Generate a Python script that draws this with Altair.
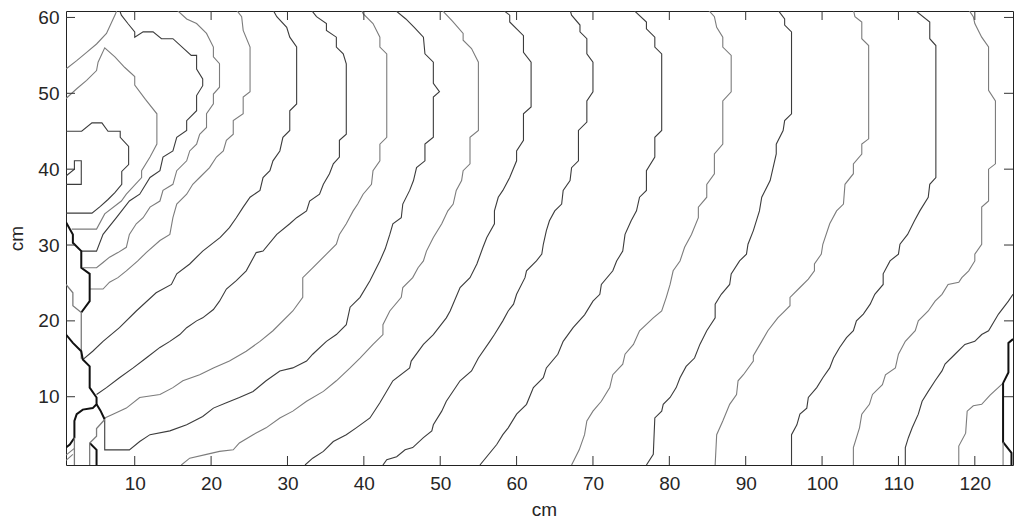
import altair as alt
import pandas as pd

# ---------------- data ----------------
x_ticks = [10, 20, 30, 40, 50, 60, 70, 80, 90, 100, 110, 120]
y_ticks = [10, 20, 30, 40, 50, 60]

# contour polylines, [x, y] in cm
c01 = [[1.0, 38.0], [3.0, 38.0], [3.0, 41.1], [2.1, 41.1], [2.1, 40.0], [1.0, 39.1]]
c02 = [[1.0, 45.0], [3.05, 45.0], [4.4, 46.1], [5.7, 46.1], [6.5, 45.0], [8.1, 45.0], [8.1, 44.2],
       [9.2, 43.0], [9.2, 40.6], [8.3, 39.7], [8.3, 38.0], [7.4, 36.9], [6.5, 36.0], [5.5, 35.1],
       [4.4, 34.2], [1.0, 34.2]]
c03a = [[1.0, 53.2], [2.4, 54.3], [3.7, 55.4], [5.0, 56.5], [6.3, 57.9], [6.9, 59.2], [7.4, 60.3], [7.7, 61.0]]
c03 = [[1.0, 49.3], [2.4, 50.6], [3.7, 51.7], [5.0, 53.0], [5.2, 54.1], [6.07, 56.0], [7.4, 54.8],
       [8.7, 53.4], [10.0, 52.2], [10.0, 51.1], [11.4, 49.2], [12.9, 47.3], [12.9, 43.3], [12.0, 41.6],
       [10.9, 39.8], [10.9, 38.9], [8.9, 36.7], [8.25, 35.8], [6.07, 34.1], [5.0, 32.1], [1.75, 32.1]]
c04 = [[8.0, 61.0], [8.25, 60.3], [9.1, 59.2], [10.0, 58.1], [10.0, 57.4], [11.1, 58.1], [12.4, 58.1],
       [13.5, 57.2], [15.0, 57.2], [17.4, 55.0], [18.1, 55.0], [18.1, 53.2], [18.9, 51.9], [18.9, 51.0],
       [18.1, 49.7], [18.1, 47.7], [16.8, 46.4], [16.8, 45.1], [15.5, 44.2], [15.0, 42.4], [13.7, 41.6],
       [13.3, 39.8], [12.0, 38.9], [10.65, 36.7], [9.3, 35.8], [7.6, 33.6], [5.85, 31.4], [5.0, 29.2],
       [3.0, 29.2]]
c05 = [[15.5, 61.0], [16.8, 59.8], [18.1, 59.2], [19.4, 57.9], [20.3, 56.1], [20.3, 54.8], [21.1, 53.9],
       [21.1, 50.8], [20.3, 49.9], [20.3, 48.6], [19.4, 47.3], [19.4, 45.5], [18.5, 44.6], [18.1, 43.3],
       [17.2, 42.4], [16.8, 41.1], [15.5, 39.8], [15.0, 38.0], [13.7, 37.2], [13.3, 35.8], [12.0, 35.0],
       [11.1, 33.6], [10.2, 32.8], [9.3, 31.4], [8.9, 29.7], [7.8, 29.0], [6.7, 28.4], [5.85, 27.7],
       [5.0, 27.0], [3.2, 27.0]]
c06 = [[23.3, 61.0], [24.0, 60.1], [24.2, 58.3], [25.1, 56.1], [25.1, 50.2], [24.2, 49.5], [24.2, 47.3],
       [22.9, 46.4], [22.9, 44.6], [22.0, 43.8], [21.6, 42.4], [20.7, 41.6], [19.8, 40.2], [18.5, 38.9],
       [17.6, 38.0], [16.8, 36.7], [15.5, 35.4], [15.0, 33.6], [14.6, 31.4], [13.3, 30.6], [11.5, 29.0],
       [10.4, 27.9], [8.9, 26.6], [7.8, 25.7], [6.7, 25.1], [5.85, 24.2], [4.1, 24.2]]
c07 = [[28.1, 61.0], [28.6, 60.1], [29.9, 58.7], [30.3, 57.4], [31.2, 56.1], [31.2, 48.6], [30.3, 47.7],
       [30.3, 45.1], [29.4, 44.2], [29.0, 42.4], [28.1, 41.1], [27.7, 39.8], [26.8, 38.9], [26.4, 37.2],
       [25.1, 36.3], [24.2, 35.0], [23.3, 33.6], [22.4, 32.3], [21.2, 31.0], [18.9, 29.2], [17.2, 27.5],
       [15.5, 26.2], [14.8, 24.8], [12.8, 23.7], [10.2, 21.3], [8.0, 19.1], [5.85, 17.3], [4.5, 16.0],
       [3.2, 14.9]]
c08 = [[33.1, 61.0], [33.8, 60.1], [35.1, 59.2], [35.1, 58.3], [36.4, 57.4], [36.4, 56.1], [37.3, 55.2],
       [37.7, 53.9], [37.7, 44.6], [36.8, 43.8], [36.8, 41.6], [36.0, 40.7], [35.5, 39.4], [34.7, 38.0],
       [34.2, 36.7], [32.9, 35.8], [32.5, 34.5], [31.2, 33.6], [30.3, 32.8], [28.6, 31.4], [26.8, 29.2],
       [25.9, 29.0], [24.6, 26.6], [23.3, 25.3], [22.0, 24.2], [21.1, 22.6], [20.3, 21.5], [18.9, 20.4],
       [18.1, 20.0], [16.8, 19.1], [15.9, 18.2], [14.6, 17.3], [13.3, 16.5], [11.5, 15.1], [9.8, 13.8],
       [8.0, 12.5], [6.3, 11.2], [5.0, 10.3]]
c09 = [[39.7, 61.0], [39.9, 60.5], [41.2, 59.2], [42.1, 57.4], [42.1, 56.1], [43.0, 55.2], [43.0, 44.2],
       [42.1, 43.3], [42.1, 41.1], [41.2, 39.8], [41.0, 38.0], [39.9, 36.7], [39.2, 35.4], [38.6, 34.5],
       [37.7, 32.8], [36.8, 31.4], [36.4, 30.1], [35.1, 28.8], [33.3, 27.0], [32.0, 25.7], [32.0, 23.1],
       [30.7, 21.3], [28.1, 18.7], [26.4, 17.3], [24.6, 16.0], [22.4, 14.7], [20.3, 13.8], [18.5, 12.9],
       [16.3, 12.1], [15.0, 11.2], [13.3, 10.3], [10.65, 9.9], [8.9, 8.5], [7.15, 7.7], [6.07, 7.2]]
c10 = [[44.05, 61.0], [45.5, 59.8], [46.6, 58.7], [47.8, 57.4], [48.0, 55.2], [49.1, 54.1], [49.1, 51.3],
       [49.9, 50.2], [49.1, 49.5], [49.1, 44.2], [48.0, 43.3], [48.0, 41.1], [46.9, 40.2], [46.5, 38.5],
       [46.0, 37.2], [45.1, 35.4], [44.9, 33.6], [43.8, 32.8], [43.4, 31.4], [42.8, 29.5], [42.1, 27.9],
       [40.8, 25.3], [39.5, 23.1], [38.2, 21.8], [37.7, 19.5], [36.4, 18.2], [35.1, 17.3], [33.3, 15.6],
       [32.5, 14.7], [30.7, 13.8], [29.0, 13.4], [27.2, 12.1], [25.5, 10.7], [23.7, 9.9], [22.0, 9.2],
       [20.3, 8.5], [18.9, 7.4], [16.8, 6.3], [14.6, 5.5], [12.0, 5.0], [10.65, 4.1], [9.3, 3.0],
       [6.07, 3.0], [6.07, 7.0]]
c11 = [[50.2, 61.0], [51.6, 59.5], [53.0, 57.9], [53.0, 57.0], [54.1, 55.9], [55.0, 54.1], [55.0, 45.1],
       [53.9, 44.2], [53.9, 40.7], [53.0, 39.8], [52.8, 38.5], [52.1, 37.2], [51.7, 35.4], [51.0, 34.5],
       [50.2, 32.8], [49.1, 31.0], [48.2, 29.2], [47.8, 27.9], [47.1, 27.0], [46.4, 25.7], [45.1, 24.4],
       [44.9, 23.1], [43.4, 21.3], [42.5, 19.5], [42.5, 18.2], [41.2, 16.9], [39.5, 15.1], [38.2, 13.8],
       [36.4, 12.1], [34.7, 10.7], [32.5, 9.4], [30.7, 8.1], [29.0, 7.2], [27.2, 5.9], [25.5, 5.0],
       [23.7, 3.9], [22.9, 3.0], [21.1, 2.8], [19.4, 2.4], [17.2, 1.9], [16.1, 1.0]]
c12 = [[58.2, 61.0], [59.1, 60.3], [59.1, 59.4], [60.9, 57.6], [60.9, 55.4], [61.9, 54.1], [61.9, 48.2],
       [60.9, 47.3], [60.9, 43.8], [60.0, 42.4], [60.0, 41.1], [59.1, 38.9], [58.2, 37.2], [57.6, 36.3],
       [57.1, 34.5], [57.1, 32.8], [56.1, 31.0], [55.6, 29.7], [54.8, 27.5], [53.9, 25.7], [52.6, 24.4],
       [51.3, 21.3], [50.8, 20.4], [49.1, 18.2], [47.8, 16.9], [46.2, 14.7], [46.0, 13.8], [43.8, 12.1],
       [42.1, 9.2], [40.8, 7.2], [39.0, 5.9], [37.7, 5.0], [36.0, 4.1], [34.7, 2.8], [33.3, 1.9], [32.3, 1.0]]
c13 = [[67.0, 61.0], [67.2, 60.3], [68.3, 59.0], [68.3, 58.1], [69.2, 57.2], [69.2, 55.2], [70.0, 54.1],
       [70.0, 50.2], [69.2, 49.0], [69.2, 46.2], [68.1, 45.1], [68.1, 41.1], [67.2, 40.2], [67.0, 38.5],
       [66.1, 37.2], [65.9, 35.4], [65.0, 34.5], [64.3, 33.2], [63.9, 31.9], [63.5, 30.1], [63.3, 28.8],
       [62.6, 27.9], [61.3, 26.6], [61.1, 25.7], [60.0, 23.5], [59.6, 22.2], [58.9, 21.3], [58.2, 20.0],
       [57.1, 18.2], [56.5, 17.3], [55.0, 15.1], [54.1, 13.4], [52.6, 12.1], [50.8, 9.4], [50.2, 8.1],
       [49.1, 6.3], [48.9, 5.5], [47.8, 4.6], [46.4, 3.3], [45.4, 3.0], [44.3, 2.1], [43.0, 1.7], [42.5, 1.0]]
c14 = [[75.3, 61.0], [77.0, 59.4], [77.0, 58.5], [78.1, 57.4], [78.1, 56.1], [79.0, 55.2], [79.0, 45.1],
       [78.1, 44.2], [78.1, 41.6], [77.0, 39.8], [77.0, 37.2], [76.1, 36.3], [75.7, 34.5], [75.0, 33.2],
       [74.2, 31.4], [73.9, 29.2], [73.1, 27.9], [72.6, 26.6], [71.1, 24.8], [70.9, 23.5], [70.0, 22.6],
       [68.9, 20.8], [67.4, 19.1], [66.1, 17.3], [65.4, 15.6], [63.9, 13.8], [63.5, 12.5], [62.2, 11.2],
       [61.3, 9.0], [60.0, 7.7], [58.9, 5.9], [58.2, 5.0], [57.4, 3.7], [55.2, 1.0]]
c15 = [[85.1, 61.0], [85.9, 60.1], [86.2, 58.7], [87.0, 57.4], [87.0, 56.1], [88.1, 55.0], [88.1, 50.2],
       [87.0, 49.0], [87.0, 43.3], [85.9, 42.0], [85.9, 39.4], [84.9, 38.0], [84.9, 36.3], [83.8, 35.0],
       [83.8, 33.6], [82.9, 31.4], [82.0, 29.7], [81.4, 27.9], [80.5, 26.6], [80.1, 24.8], [79.6, 23.1],
       [79.0, 21.3], [77.9, 20.4], [76.1, 18.7], [75.3, 16.9], [74.2, 15.6], [73.9, 14.3], [72.6, 12.9],
       [72.2, 11.2], [71.1, 9.4], [70.0, 8.1], [69.2, 6.8], [68.9, 5.0], [68.2, 3.0], [67.2, 1.0]]
c16 = [[94.2, 61.0], [95.1, 59.8], [95.1, 59.0], [96.0, 58.1], [96.0, 47.3], [95.1, 46.4], [94.9, 45.1],
       [94.0, 43.3], [94.0, 42.0], [93.2, 38.5], [92.1, 36.3], [91.8, 34.5], [91.0, 31.9], [90.3, 30.1],
       [90.1, 28.8], [89.2, 27.9], [88.1, 26.2], [87.9, 24.8], [86.8, 23.5], [86.0, 22.2], [86.0, 20.4],
       [84.9, 18.7], [84.0, 16.9], [83.3, 15.1], [82.2, 14.0], [81.4, 12.5], [80.9, 11.2], [80.1, 9.9],
       [79.2, 9.0], [79.0, 8.1], [78.1, 7.2], [77.9, 2.4], [77.0, 1.0]]
c17 = [[104.1, 61.0], [104.3, 60.1], [105.2, 59.4], [105.2, 57.2], [106.1, 56.3], [106.1, 44.0],
       [105.2, 43.3], [105.2, 42.0], [104.1, 40.7], [104.1, 39.4], [103.0, 38.0], [102.8, 35.4],
       [101.9, 34.5], [101.0, 32.8], [100.1, 30.1], [99.9, 28.8], [99.0, 27.5], [99.0, 26.6], [98.2, 25.5],
       [97.1, 24.4], [95.8, 23.1], [95.8, 22.0], [94.9, 21.1], [94.2, 20.4], [92.9, 18.7], [92.1, 17.3],
       [91.0, 15.4], [91.0, 14.7], [89.7, 12.9], [89.0, 12.1], [88.8, 10.3], [87.9, 9.0], [87.0, 6.8],
       [86.2, 5.0], [86.0, 1.0]]
c18 = [[112.1, 61.0], [114.1, 59.4], [114.1, 57.2], [114.9, 56.3], [114.9, 38.9], [114.1, 38.0],
       [113.9, 36.3], [112.8, 34.5], [112.1, 33.2], [111.2, 31.4], [110.2, 30.1], [110.0, 28.8],
       [108.9, 27.9], [108.0, 26.2], [108.0, 24.8], [106.9, 23.5], [106.3, 22.2], [105.4, 20.9],
       [104.5, 20.0], [104.1, 18.7], [103.2, 17.8], [102.3, 16.5], [101.5, 15.1], [101.0, 13.8],
       [100.1, 12.5], [99.3, 11.2], [98.2, 9.9], [98.0, 8.5], [97.1, 7.7], [96.7, 6.3], [96.0, 5.0], [96.0, 1.0]]
c19 = [[119.2, 61.0], [119.8, 60.1], [120.0, 59.2], [120.9, 57.4], [121.8, 56.1], [121.8, 50.4],
       [122.7, 49.0], [122.7, 40.7], [121.8, 40.0], [121.8, 35.8], [120.9, 35.0], [120.9, 30.1],
       [120.0, 28.8], [120.0, 27.9], [119.2, 26.6], [118.3, 25.7], [117.9, 25.1], [116.5, 24.8],
       [115.7, 23.5], [114.8, 22.6], [113.9, 21.3], [112.6, 20.0], [112.2, 18.7], [110.9, 17.3],
       [110.0, 15.6], [109.6, 13.8], [108.3, 12.9], [107.9, 11.6], [106.6, 10.3], [106.2, 9.0],
       [105.2, 7.7], [104.9, 5.9], [104.1, 3.3], [104.1, 1.0]]
c20 = [[125.0, 23.5], [124.4, 22.6], [123.1, 20.9], [121.8, 18.7], [120.9, 18.2], [120.0, 17.3],
       [118.7, 16.9], [117.4, 15.6], [116.1, 14.3], [115.7, 13.4], [114.8, 12.1], [113.9, 10.7],
       [113.1, 9.4], [112.6, 7.7], [111.8, 5.9], [111.3, 4.6], [110.9, 3.3], [110.9, 1.0]]
c21 = [[117.9, 1.0], [117.9, 3.5], [118.8, 5.2], [119.0, 8.1], [119.8, 8.8], [120.9, 9.0], [122.0, 10.2],
       [123.7, 11.8]]
c21b = [[123.7, 11.8], [124.4, 13.2], [124.4, 17.1], [125.0, 17.6]]
c22 = [[123.7, 11.8], [123.7, 4.0], [124.8, 2.6], [124.8, 1.0]]
c22g = [[123.7, 4.0], [123.7, 1.0]]

# tangle of low-level contours along the left edge
t1 = [[1.0, 33.0], [1.9, 31.4], [1.9, 30.3], [3.0, 29.2], [3.0, 27.0], [4.1, 26.2], [4.1, 22.6], [3.0, 21.1]]
t2 = [[1.0, 24.8], [1.9, 23.7], [1.9, 22.0], [3.0, 21.1], [3.0, 15.0]]
t3 = [[1.0, 18.2], [1.9, 17.1], [3.0, 16.0], [3.2, 14.9], [4.1, 14.0], [4.1, 11.2], [5.0, 9.9], [5.0, 9.0],
      [4.5, 8.5], [3.2, 8.3], [2.4, 7.7], [2.1, 6.8], [2.1, 4.6], [1.5, 3.7], [1.0, 3.3]]
t4 = [[5.0, 9.0], [5.5, 8.2], [6.07, 7.0]]
t5 = [[4.1, 3.9], [5.0, 3.0], [5.0, 1.0]]
t6 = [[4.1, 1.0], [4.1, 3.9], [5.0, 4.8], [5.0, 5.8], [6.07, 7.0]]
t7 = [[1.0, 2.3], [2.1, 3.2]]
t8 = [[1.0, 1.6], [1.9, 2.4]]
t9 = [[2.1, 4.6], [2.1, 1.0]]

DARK, GRAY, BLACK = "#3c3c3c", "#7c7c7c", "#111111"
lines = [
    ("c01", c01, DARK, 1.1), ("c02", c02, DARK, 1.1), ("c03a", c03a, GRAY, 1.1), ("c03", c03, GRAY, 1.1),
    ("c04", c04, DARK, 1.1), ("c05", c05, GRAY, 1.1), ("c06", c06, GRAY, 1.1), ("c07", c07, DARK, 1.1),
    ("c08", c08, DARK, 1.1), ("c09", c09, GRAY, 1.1), ("c10", c10, DARK, 1.1), ("c11", c11, GRAY, 1.1),
    ("c12", c12, DARK, 1.1), ("c13", c13, DARK, 1.1), ("c14", c14, DARK, 1.1), ("c15", c15, GRAY, 1.1),
    ("c16", c16, DARK, 1.1), ("c17", c17, GRAY, 1.1), ("c18", c18, DARK, 1.1), ("c19", c19, GRAY, 1.1),
    ("c20", c20, DARK, 1.1), ("c21", c21, GRAY, 1.1), ("c21b", c21b, BLACK, 2.0), ("c22", c22, BLACK, 2.0),
    ("c22g", c22g, GRAY, 1.1),
    ("t1", t1, BLACK, 2.0), ("t2", t2, GRAY, 1.3), ("t3", t3, BLACK, 2.0), ("t4", t4, BLACK, 2.0),
    ("t5", t5, BLACK, 2.0), ("t6", t6, GRAY, 1.3), ("t7", t7, GRAY, 1.1), ("t8", t8, GRAY, 1.1),
    ("t9", t9, GRAY, 1.3),
]

rows = []
for name, pts, col, w in lines:
    for i, (x, y) in enumerate(pts):
        rows.append({"id": name, "i": i, "x": x, "y": y, "col": col, "w": w})
df = pd.DataFrame(rows)

W, H = 947, 454
XDOM = [1, 125]
YDOM = [1, 60.85]
FONT = "Liberation Sans"
FS = 19

xs = alt.Scale(domain=XDOM, nice=False, zero=False)
ys = alt.Scale(domain=YDOM, nice=False, zero=False)

x_axis = alt.Axis(values=x_ticks, ticks=False, tickSize=0, domain=False, grid=False,
                  labelPadding=9, labelFontSize=FS, labelFont=FONT, labelColor="#262626",
                  titleFont=FONT, titleFontSize=FS, titleFontWeight="normal", titleColor="#262626",
                  titleX=478, titleY=50, titleBaseline="alphabetic", titleAlign="center")
y_axis = alt.Axis(values=y_ticks, ticks=False, tickSize=0, domain=False, grid=False,
                  labelPadding=7, labelFontSize=FS, labelFont=FONT, labelColor="#262626",
                  titleFont=FONT, titleFontSize=FS, titleFontWeight="normal", titleColor="#262626",
                  titleX=-44, titleY=H / 2, titleAngle=270, titleBaseline="alphabetic",
                  titleAlign="center")

contours = alt.Chart(df).mark_line(clip=True, strokeJoin="miter").encode(
    x=alt.X("x:Q", scale=xs, title="cm", axis=x_axis),
    y=alt.Y("y:Q", scale=ys, title="cm", axis=y_axis),
    detail="id:N",
    order="i:Q",
    color=alt.Color("col:N", scale=None),
    strokeWidth=alt.StrokeWidth("w:Q", scale=None),
)

xt = pd.DataFrame({"x": x_ticks})
yt = pd.DataFrame({"y": y_ticks})
TICK = "#333333"
TL = 9
tick_b = alt.Chart(xt).mark_rule(color=TICK, strokeWidth=1).encode(
    x=alt.X("x:Q", scale=xs, title="cm", axis=x_axis), y=alt.value(H), y2=alt.value(H - TL))
tick_t = alt.Chart(xt).mark_rule(color=TICK, strokeWidth=1).encode(
    x=alt.X("x:Q", scale=xs, title="cm", axis=x_axis), y=alt.value(0), y2=alt.value(TL))
tick_l = alt.Chart(yt).mark_rule(color=TICK, strokeWidth=1).encode(
    y=alt.Y("y:Q", scale=ys, title="cm", axis=y_axis), x=alt.value(0), x2=alt.value(TL))
tick_r = alt.Chart(yt).mark_rule(color=TICK, strokeWidth=1).encode(
    y=alt.Y("y:Q", scale=ys, title="cm", axis=y_axis), x=alt.value(W), x2=alt.value(W - TL))

chart = alt.layer(contours, tick_b, tick_t, tick_l, tick_r).properties(
    width=W, height=H,
    autosize=alt.AutoSizeParams(type="none"),
    padding={"left": 66, "top": 11, "right": 4, "bottom": 53},
    background="white",
).configure_view(stroke="#222222", strokeWidth=1)

chart.save("out.html", embed_options={"renderer": "svg", "actions": False})
